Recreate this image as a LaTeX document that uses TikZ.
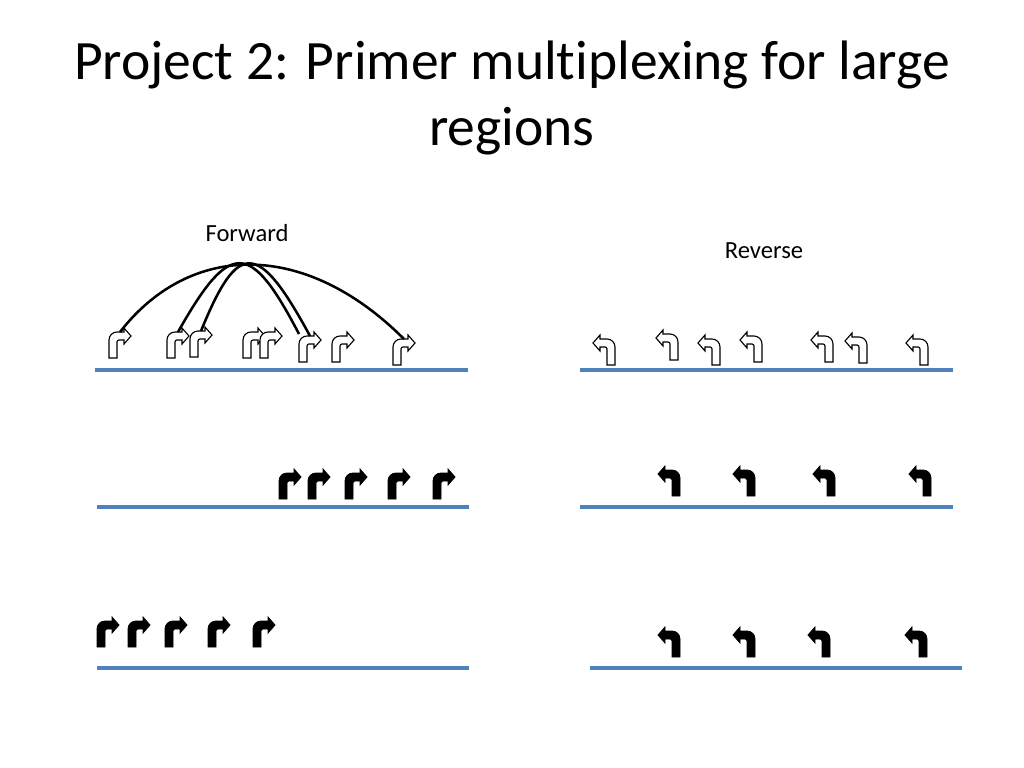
\documentclass[tikz,border=0pt]{standalone}
\usepackage{fontspec}
\setmainfont{Carlito}[Ligatures=NoCommon]
\usepackage{xcolor}
\usetikzlibrary{positioning,shadows}
\definecolor{strandblue}{HTML}{4F81BD}

\newcommand{\bentpath}{(0,0) -- (0,18) arc[start angle=180,end angle=90,radius=8] -- (15,26) -- (15,30) -- (22,22) -- (15,14) -- (15,18) -- (10,18) arc[start angle=90,end angle=180,radius=2] -- (8,0) -- cycle}

\tikzset{
  fwd/.pic={
    \begin{scope}[yscale=-1]
      \path[pic actions] \bentpath;
      \coordinate (-l) at (0,28);
      \coordinate (-r) at (11,26);
    \end{scope}
  },
  rev/.pic={
    \begin{scope}[yscale=-1,xscale=-1]
      \path[pic actions] \bentpath;
    \end{scope}
  },
  openarrow/.style={draw=black,line width=0.8pt,fill=white,
    drop shadow={opacity=.3,shadow xshift=.8pt,shadow yshift=-.8pt}},
  darkarrow/.style={draw=black,line width=0.6pt,fill=black,
    drop shadow={opacity=.3,shadow xshift=.8pt,shadow yshift=-.8pt}},
  strand/.style={draw=strandblue,line width=2.5pt},
  link/.style={draw=black,line width=1.8pt},
  title/.style={font=\fontsize{39.5}{46}\selectfont,anchor=base},
  label/.style={font=\fontsize{17.5}{21}\selectfont,anchor=base}
}

\begin{document}
\begin{tikzpicture}[x=0.025cm,y=-0.025cm]
            \useasboundingbox (0,0) rectangle (1024,768);

            \node[title] (title1) at (512,80){Project 2: Primer multiplexing for large};
            \node[title] (title2) at (512,146){regions};
            \node[label] (fwdlabel) at (247,241){Forward};
            \node[label] (revlabel) at (764,258){Reverse};

            \draw[strand] (95,370) -- (468,370);
            \draw[strand] (580,370) -- (953,370);
            \draw[strand] (97,507) -- (469,507);
            \draw[strand] (580,507) -- (953,507);
            \draw[strand] (97,668) -- (469,668);
            \draw[strand] (590,668) -- (962,668);

            \pic[openarrow] (f1) at (109,358) {fwd};
            \pic[openarrow] (f2) at (167,358) {fwd};
            \pic[openarrow] (f3) at (190,357) {fwd};
            \pic[openarrow] (f4) at (243,358) {fwd};
            \pic[openarrow] (f5) at (260,358) {fwd};
            \pic[openarrow] (f6) at (299,362) {fwd};
            \pic[openarrow] (f7) at (332,362) {fwd};
            \pic[openarrow] (f8) at (393,365) {fwd};

            \pic[openarrow] (r1) at (615,365) {rev};
            \pic[openarrow] (r2) at (678,360) {rev};
            \pic[openarrow] (r3) at (720,365) {rev};
            \pic[openarrow] (r4) at (762,362) {rev};
            \pic[openarrow] (r5) at (833,362) {rev};
            \pic[openarrow] (r6) at (867,363) {rev};
            \pic[openarrow] (r7) at (928,365) {rev};

            \foreach \x [count=\i] in {279,308,345,388,433}
              \pic[darkarrow] (g\i) at (\x,499) {fwd};
            \foreach \x [count=\i] in {680,755,835,931}
              \pic[darkarrow] (s\i) at (\x,496) {rev};
            \foreach \x [count=\i] in {97,128,165,208,253}
              \pic[darkarrow] (h\i) at (\x,647) {fwd};
            \foreach \x [count=\i] in {680,755,830,927}
              \pic[darkarrow] (t\i) at (\x,657) {rev};

            \draw[link] (f1-r) .. controls (190,242) and (305,240) .. (f8-r);
            \draw[link] (f2-r) .. controls (230,240) and (250,240) .. (f6-l);
            \draw[link] (f3-r) .. controls (238,240) and (258,240) .. (f6-r);
        \end{tikzpicture}
\end{document}
